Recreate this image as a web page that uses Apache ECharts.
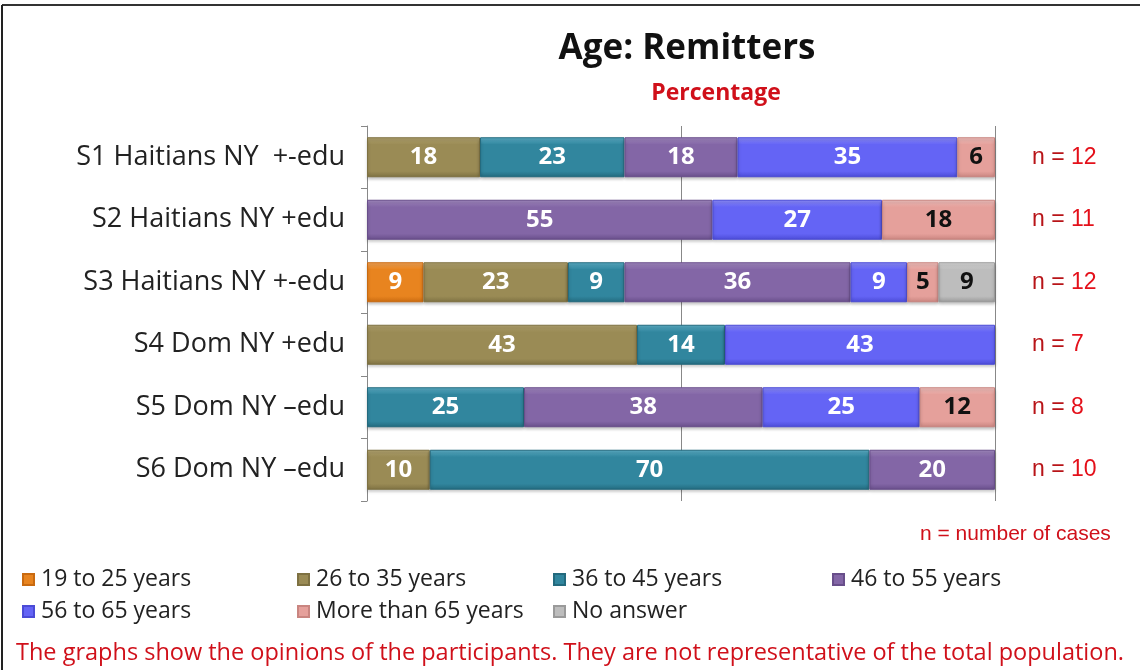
<!DOCTYPE html>
<html><head><meta charset="utf-8">
<script src="https://cdn.jsdelivr.net/npm/echarts@6/dist/echarts.min.js"></script>
<style>html,body{margin:0;padding:0;background:#fff}#c{width:1140px;height:670px}</style>
</head><body><div id="c"></div>
<script>
const categories = ['S1 Haitians NY  +-edu','S2 Haitians NY +edu','S3 Haitians NY +-edu','S4 Dom NY +edu','S5 Dom NY \u2013edu','S6 Dom NY \u2013edu'];
const nValues = [12, 11, 12, 7, 8, 10];
const seriesNames = ['19 to 25 years','26 to 35 years','36 to 45 years','46 to 55 years','56 to 65 years','More than 65 years','No answer'];
const age19to25 = [0, 0, 9, 0, 0, 0];
const age26to35 = [18, 0, 23, 43, 0, 10];
const age36to45 = [23, 0, 9, 14, 25, 70];
const age46to55 = [18, 55, 36, 0, 38, 20];
const age56to65 = [35, 27, 9, 43, 25, 0];
const ageOver65 = [6, 18, 5, 0, 12, 0];
const noAnswer = [0, 0, 9, 0, 0, 0];
const xTicks = [0, 50, 100];

const seriesValues = [age19to25, age26to35, age36to45, age46to55, age56to65, ageOver65, noAnswer];
const colors = [
  ['#F7A85A','#E8841F','#C96A10'],
  ['#B5A672','#9A8B55','#7E7142'],
  ['#5FB3CC','#31869E','#236A7E'],
  ['#A58CC4','#8366A6','#684E8A'],
  ['#8F8FFF','#6464F5','#4B4BD6'],
  ['#F3C3C0','#E5A09B','#C98580'],
  ['#D9D9D9','#BDBDBD','#9A9A9A']
];
const darkLabel = [false,false,false,false,false,true,true];
const legendPos = [[22,568],[297,568],[553,568],[832,568],[22,600],[297,600],[553,600]];

function grad(c){
  return new echarts.graphic.LinearGradient(0,0,0,1,[
    {offset:0,color:c[0]},{offset:0.18,color:c[1]},{offset:0.85,color:c[1]},{offset:1,color:c[2]}
  ]);
}

const series = seriesNames.map((name,i)=>({
  name: name,
  type: 'bar',
  stack: 'total',
  barCategoryGap: '36%',
  data: seriesValues[i].map(v => v === 0 ? null : v),
  itemStyle: { color: grad(colors[i]), borderColor: colors[i][2], borderWidth: 1,
    shadowColor: 'rgba(0,0,0,0.25)', shadowBlur: 3, shadowOffsetY: 2 },
  label: { show: true, position: 'inside', formatter: p => p.value,
    color: darkLabel[i] ? '#111' : '#fff', fontWeight: 'bold', fontSize: 24,
    fontFamily: 'Open Sans' },
  emphasis: { disabled: true }
}));

const legends = seriesNames.map((name,i)=>({
  data: [name], left: legendPos[i][0], top: legendPos[i][1], padding: 0,
  itemWidth: 11, itemHeight: 11, icon: 'rect', selectedMode: false,
  textStyle: { fontSize: 23, color: '#222', fontFamily: 'Open Sans', padding: [0,0,0,2] }
}));

const chart = echarts.init(document.getElementById('c'), null, {renderer:'canvas'});
chart.setOption({
  animation: false,
  color: colors.map(c=>c[1]),
  title: [
    { text: 'Age: Remitters', left: 682, top: 27, textAlign: 'center',
      textStyle: { fontFamily: 'Open Sans', fontWeight: 'bold', fontSize: 35, color: '#111' } },
    { text: 'Percentage', left: 711, top: 77, textAlign: 'center',
      textStyle: { fontFamily: 'Open Sans', fontWeight: 'bold', fontSize: 23, color: '#D0101A' } }
  ],
  grid: { left: 367, right: 145, top: 126, bottom: 169, containLabel: false },
  xAxis: { type: 'value', min: xTicks[0], max: xTicks[xTicks.length-1], interval: xTicks[1]-xTicks[0],
    axisLabel: { show: false }, axisLine: { show: false }, axisTick: { show: false },
    splitLine: { show: true, lineStyle: { color: '#888', width: 1 } } },
  yAxis: [
    { type: 'category', data: categories, inverse: true,
      axisLine: { show: true, lineStyle: { color: '#888' } },
      axisTick: { show: true, length: 6, lineStyle: { color: '#888' } },
      axisLabel: { margin: 22, fontSize: 27, color: '#222', fontFamily: 'Open Sans' } },
    { type: 'category', data: nValues, inverse: true, position: 'right',
      axisLine: { show: false }, axisTick: { show: false },
      axisLabel: { margin: 37, align: 'left', formatter: v => '{a|n = }{b|' + v + '}',
        rich: { a: { fontSize: 23, color: '#B81418', fontFamily: 'Liberation Sans' },
                b: { fontSize: 23, color: '#E4101A', fontFamily: 'Liberation Sans' } } } }
  ],
  legend: legends,
  graphic: [
    { type: 'text', left: 920, top: 524, style: { text: 'n = number of cases', fontSize: 21,
      fill: '#D0101A', fontFamily: 'Liberation Sans' } },
    { type: 'text', left: 'center', top: 641, style: { text: 'The graphs show the opinions of the participants. They are not representative of the total population.',
      fontSize: 23.5, fill: '#D0101A', fontFamily: 'Open Sans' } },
    { type: 'line', shape: { x1: 2, y1: 5, x2: 1140, y2: 5 }, style: { stroke: '#333', lineWidth: 2 } },
    { type: 'line', shape: { x1: 2, y1: 5, x2: 2, y2: 670 }, style: { stroke: '#222', lineWidth: 2 } }
  ],
  series: series
});
</script></body></html>
